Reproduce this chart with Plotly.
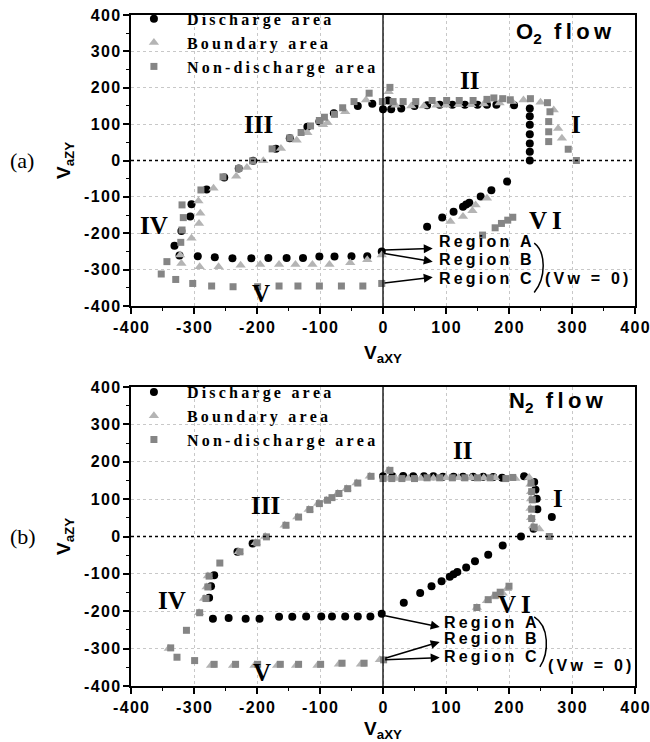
import plotly.graph_objects as go

# ---------------- data: panel (a) O2 flow ----------------
a_dis_x = [-17, 0, 13, 29, 50, 70, 90, 110, 130, 150, 165, 180, 208, 8,
           233, 233, 233, 233, 233, 233, 233,
           197, 172, 155, 137, 132, 127, 112, 94, 70,
           -2, -25, -50, -77, -101, -127, -153, -182, -209, -239, -267, -294,
           -323, -331, -320, -306, -304, -280, -252, -229, -206, -170, -148, -120, -101, -78, -40]
a_dis_y = [156, 141, 141, 143, 150, 152, 153, 153, 153, 153, 153, 153, 152, 165,
           143, 122, 98, 72, 47, 24, 0,
           -58, -82, -99, -116, -121, -127, -141, -157, -182,
           -250, -263, -263, -264, -264, -268, -268, -268, -269, -269, -266, -263,
           -261, -234, -194, -154, -120, -80, -47, -22, -1, 32, 61, 93, 107, 130, 150]

a_bnd_x = [-322, -304, -292, -290, -293, -269, -233, -216, -190, -162, -137, -120, -95, -88, -60, -27, 9,
           20, 45, 65, 85, 100, 120, 140, 160, 185, 205, 223, 250,
           271, 278, 284,
           -2, -25, -52, -85, -112, -139, -165, -195, -226, -261, -291, -320,
           107, 127, 142, 147, 165]
a_bnd_y = [-260, -214, -173, -145, -111, -76, -43, -19, -1, 33, 56, 76, 98, 104, 134, 166, 189,
           152, 150, 150, 152, 152, 153, 153, 155, 158, 162, 166, 160,
           139, 88, 61,
           -260, -273, -281, -286, -286, -286, -286, -286, -288, -292, -292, -283,
           -168, -154, -138, -122, -104]

a_non_x = [-352, -343, -329, -302, -272, -238, -199, -165, -135, -101, -66, -32, -2,
           -321, -319, -317, -319, -289, -254, -229, -207, -176, -148, -130, -115, -101, -93, -77, -64, -46, -22, 11, -1,
           16, 32, 52, 78, 101, 121, 143, 165, 176, 190, 202, 234,
           261, 265, 263, 263, 263, 294, 307,
           158, 178, 188, 198, 206]
a_non_y = [-312, -278, -327, -338, -345, -347, -347, -345, -345, -345, -345, -345, -338,
           -225, -191, -157, -122, -81, -45, -22, -1, 32, 62, 77, 95, 110, 119, 127, 145, 162, 185, 201, 162,
           162, 162, 162, 165, 165, 165, 165, 168, 172, 170, 167, 170,
           159, 134, 107, 79, 52, 31, 0,
           -205, -185, -173, -164, -156]

# ---------------- data: panel (b) N2 flow ----------------
b_dis_x = [0, 15, 32, 48, 65, 80, 95, 112, 127, 143, 159, 175, 189, 224,
           240, 242, 244, 245, 239, 268, 219,
           190, 167, 146, 132, 118, 112, 106, 93, 77, 59, 33,
           -2, -20, -40, -60, -81, -98, -122, -144, -165, -196, -218, -245, -270,
           -276, -273, -268, -231, -207]
b_dis_y = [161, 161, 162, 161, 161, 161, 160, 160, 160, 160, 160, 159, 157, 161,
           146, 125, 101, 73, 21, 52, 0,
           -24, -49, -66, -83, -95, -101, -108, -120, -133, -151, -177,
           -207, -214, -214, -214, -214, -214, -214, -215, -215, -220, -220, -218, -220,
           -164, -133, -104, -41, -19]

b_bnd_x = [-340, -292, -284, -280, -278, -229, -202, -187, -156, -136, -118, -103, -90, -72, -58, -42, -21, 9,
           5, 20, 40, 60, 80, 100, 120, 140, 160, 178, 210, 232,
           234, 235, 235, 234, 235, 238, 248,
           -5, -35, -70, -104, -138, -168, -204, -238, -273,
           149, 165, 175, 190, 197]
b_bnd_y = [-300, -204, -166, -135, -106, -41, -17, 0, 30, 52, 72, 88, 97, 115, 128, 143, 161, 177,
           155, 155, 155, 155, 156, 157, 157, 157, 157, 157, 155, 158,
           140, 120, 100, 75, 50, 28, 20,
           -330, -342, -342, -345, -345, -345, -345, -345, -345,
           -190, -172, -162, -152, -140]

b_non_x = [1, -30, -65, -99, -134, -163, -199, -234, -268, -299, -327, -337,
           -312, -291, -281, -278, -276, -259, -227, -200, -185, -154, -134, -116, -101, -88, -81, -70, -56, -40, -19, 11,
           0, 14, 30, 50, 70, 90, 110, 130, 150, 170, 195, 206,
           235, 236, 237, 236, 236, 240, 264,
           149, 167, 179, 186, 200]
b_non_y = [-330, -339, -339, -342, -342, -342, -342, -342, -342, -332, -323, -298,
           -251, -204, -166, -135, -106, -71, -41, -17, -1, 30, 52, 72, 88, 97, 104, 115, 128, 143, 161, 177,
           155, 155, 155, 155, 157, 157, 157, 157, 157, 157, 155, 158,
           143, 120, 98, 73, 48, 25, 0,
           -190, -169, -157, -149, -133]

series_names = ["Discharge area", "Boundary area", "Non-discharge area"]
tick_vals = [-400, -300, -200, -100, 0, 100, 200, 300, 400]
tick_text = ["-400", "-300", "-200", "-100", "0", "100", "200", "300", "400"]

numerals = ["I", "II", "III", "IV", "V", "VI"]
a_num_x = [306, 138, -197, -364, -193, 258]
a_num_y = [100, 221, 100, -180, -365, -164]
b_num_x = [278, 126, -187, -335, -192, 209]
b_num_y = [101, 230, 83, -171, -365, -181]

# ---------------- styling helpers ----------------
SP = "\u2009"
HSP = "\u200a"


def spaced(s, sep=SP):
    return sep.join(list(s))


SANS = "Liberation Sans"
SERIF = "Liberation Serif"

styles = [
    dict(symbol="circle", color="black", size=8),
    dict(symbol="triangle-up", color="#b4b4b4", size=9),
    dict(symbol="square", color="#858585", size=7),
]

fig = go.Figure()

panels = [
    ("x", "y", "legend", [(a_dis_x, a_dis_y), (a_bnd_x, a_bnd_y), (a_non_x, a_non_y)]),
    ("x2", "y2", "legend2", [(b_dis_x, b_dis_y), (b_bnd_x, b_bnd_y), (b_non_x, b_non_y)]),
]
for xa, ya, lg, sets in panels:
    for (xs, ys), name, st in zip(sets, series_names, styles):
        fig.add_trace(go.Scatter(
            x=xs, y=ys, mode="markers", name=spaced(name), xaxis=xa, yaxis=ya,
            legend=lg,
            marker=dict(symbol=st["symbol"], color=st["color"], size=st["size"], line=dict(width=0)),
        ))

axis_common = dict(
    range=[-400, 400], tickvals=tick_vals, ticktext=[spaced(t, HSP) for t in tick_text],
    ticks="outside", ticklen=6, tickwidth=1.5, tickcolor="black",
    minor=dict(ticks="outside", dtick=50, ticklen=3, tickwidth=1.2, tickcolor="black", showgrid=False),
    showline=True, linecolor="black", linewidth=1.5, mirror=True,
    showgrid=True, gridcolor="#c8c8c8", griddash="dot", gridwidth=1,
    zeroline=False, automargin=False, ticklabeloverflow="allow",
    tickfont=dict(family=SANS, size=16, color="black", weight="bold"),
)

title_font = dict(family=SANS, size=19, color="black", weight="bold")
xtitle = "V<sub>aXY</sub>"
ytitle = "V<sub>aZY</sub>"

top_dom = [0.5663, 1.0]
bot_dom = [0.0, 0.4456]

fig.update_layout(
    xaxis=dict(axis_common, domain=[0, 1], anchor="y",
               title=dict(text=xtitle, font=title_font, standoff=11)),
    yaxis=dict(axis_common, domain=top_dom, anchor="x",
               title=dict(text=ytitle, font=title_font, standoff=8)),
    xaxis2=dict(axis_common, domain=[0, 1], anchor="y2",
                title=dict(text=xtitle, font=title_font, standoff=11)),
    yaxis2=dict(axis_common, domain=bot_dom, anchor="x2",
                title=dict(text=ytitle, font=title_font, standoff=8)),
)

legend_common = dict(
    font=dict(family=SERIF, size=16, color="black", weight="bold"),
    bgcolor="rgba(0,0,0,0)", borderwidth=0, xanchor="left", yanchor="top",
    itemwidth=56, tracegroupgap=0,
)
fig.update_layout(
    legend=dict(legend_common, x=-0.02, y=1.0195),
    legend2=dict(legend_common, x=-0.02, y=0.4635),
)

for xr, yr in [("x", "y"), ("x2", "y2")]:
    fig.add_shape(type="line", xref=f"{xr} domain", yref=yr, x0=0, x1=1, y0=0, y1=0,
                  line=dict(color="black", width=1.3, dash="dot"))
    fig.add_shape(type="line", xref=xr, yref=f"{yr} domain", x0=0, x1=0, y0=0, y1=1,
                  line=dict(color="black", width=1.3))

annotations = []


def add_text(xr, yr, x, y, text, font, xanchor="center"):
    annotations.append(dict(xref=xr, yref=yr, x=x, y=y, text=text, showarrow=False,
                            font=font, xanchor=xanchor, yanchor="middle"))


num_font = dict(family=SERIF, size=25, color="black", weight="bold")
for t, x, y in zip(numerals, a_num_x, a_num_y):
    add_text("x", "y", x, y, spaced(t) if t == "VI" else t, num_font)
for t, x, y in zip(numerals, b_num_x, b_num_y):
    add_text("x2", "y2", x, y, spaced(t) if t == "VI" else t, num_font)

flow_font = dict(family=SANS, size=22, color="black", weight="bold")
add_text("x", "y", 288, 350, "O<sub>2</sub>  " + spaced("flow"), flow_font)
add_text("x2", "y2", 276, 360, "N<sub>2</sub>  " + spaced("flow"), flow_font)

reg_font = dict(family=SANS, size=16, color="black", weight="bold")
regions = ["Region A", "Region B", "Region C"]
a_reg_y = [-222, -271, -323]
b_reg_y = [-231, -274, -320]
for r, y in zip(regions, a_reg_y):
    add_text("x", "y", 85, y, spaced(r), reg_font, "left")
for r, y in zip(regions, b_reg_y):
    add_text("x2", "y2", 93, y, spaced(r), reg_font, "left")
add_text("x", "y", 254, -323, spaced("(Vw = 0)"), reg_font, "left")
add_text("x2", "y2", 259, -345, spaced("(Vw = 0)"), reg_font, "left")

a_arrows = [((0, -246), (79, -242)), ((0, -255), (79, -278)), ((0, -337), (79, -321))]
b_arrows = [((1, -211), (90, -242)), ((1, -327), (90, -282)), ((1, -330), (90, -324))]
for xr, yr, arrs in [("x", "y", a_arrows), ("x2", "y2", b_arrows)]:
    for (sx, sy), (ex, ey) in arrs:
        annotations.append(dict(xref=xr, yref=yr, axref=xr, ayref=yr, x=ex, y=ey, ax=sx, ay=sy,
                                text="", showarrow=True, arrowhead=2, arrowsize=1.2,
                                arrowwidth=1.5, arrowcolor="black"))

fig.add_shape(type="path", xref="x", yref="y", path="M 240 -227 C 258 -250, 260 -320, 240 -363",
              line=dict(color="black", width=1.5))
fig.add_shape(type="path", xref="x2", yref="y2", path="M 240 -215 C 264 -240, 264 -310, 249 -349",
              line=dict(color="black", width=1.5))

lab_font = dict(family=SERIF, size=22, color="black")
annotations.append(dict(xref="paper", yref="y", x=-0.245, y=0, text="(a)", showarrow=False,
                        font=lab_font, xanchor="left", yanchor="middle"))
annotations.append(dict(xref="paper", yref="y2", x=-0.245, y=0, text="(b)", showarrow=False,
                        font=lab_font, xanchor="left", yanchor="middle"))

fig.update_layout(
    annotations=annotations,
    width=650, height=742,
    margin=dict(l=131, r=15, t=15, b=56, autoexpand=False),
    paper_bgcolor="white", plot_bgcolor="white",
    showlegend=True,
)

fig.write_html("out.html")
